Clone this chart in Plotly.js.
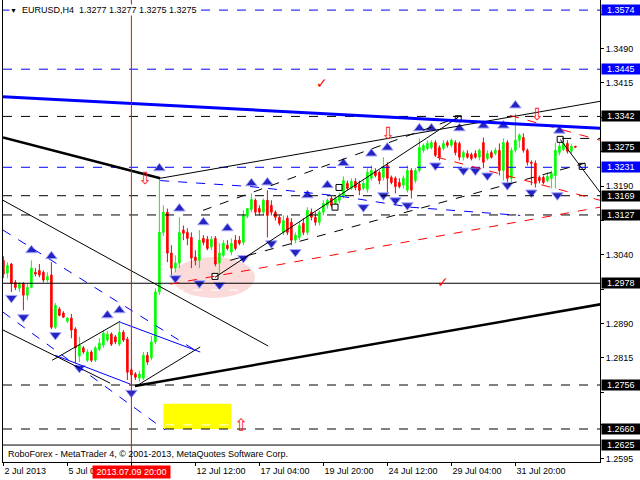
<!DOCTYPE html>
<html><head><meta charset="utf-8">
<script src="https://cdn.plot.ly/plotly-3.0.1.min.js"></script>
<style>html,body{margin:0;padding:0;background:#fff}#chart{width:640px;height:480px}</style>
</head><body><div id="chart"></div>
<script>
// ---- EURUSD H4 bars (bar index = position on the time axis) ----
const openPrices = [1.3028,1.3000,1.3020,1.2980,1.2967,1.2978,1.2952,1.2969,1.3002,1.3006,1.3002,1.2985,1.2996,1.2882,1.2922,1.2913,1.2895,1.2902,1.2878,1.2819,1.2837,1.2810,1.2828,1.2810,1.2834,1.2843,1.2854,1.2867,1.2861,1.2845,1.2871,1.2856,1.2789,1.2780,1.2771,1.2771,1.2821,1.2815,1.2850,1.2959,1.3089,1.3133,1.3044,1.3011,1.3022,1.3094,1.3089,1.3078,1.3035,1.3028,1.3076,1.3074,1.3057,1.3076,1.3022,1.3039,1.3061,1.3046,1.3072,1.3072,1.3067,1.3124,1.3139,1.3159,1.3141,1.3133,1.3159,1.3148,1.3133,1.3122,1.3089,1.3120,1.3111,1.3072,1.3078,1.3109,1.3089,1.3133,1.3122,1.3111,1.3133,1.3148,1.3163,1.3152,1.3159,1.3168,1.3196,1.3185,1.3200,1.3194,1.3185,1.3183,1.3207,1.3222,1.3220,1.3209,1.3235,1.3209,1.3207,1.3198,1.3192,1.3181,1.3224,1.3202,1.3224,1.3268,1.3272,1.3274,1.3285,1.3274,1.3272,1.3285,1.3279,1.3285,1.3283,1.3253,1.3261,1.3259,1.3261,1.3253,1.3285,1.3250,1.3263,1.3261,1.3268,1.3224,1.3285,1.3207,1.3268,1.3290,1.3296,1.3268,1.3242,1.3240,1.3209,1.3209,1.3202,1.3207,1.3213,1.3263,1.3270,1.3283,1.3266,1.3277];
const highPrices = [1.3037,1.3024,1.3022,1.2985,1.2980,1.2980,1.2978,1.3028,1.3011,1.3020,1.3006,1.3002,1.3024,1.2935,1.2926,1.2917,1.2904,1.2911,1.2882,1.2861,1.2841,1.2834,1.2832,1.2841,1.2858,1.2876,1.2874,1.2871,1.2865,1.2893,1.2876,1.2861,1.2793,1.2784,1.2787,1.2828,1.2828,1.2863,1.2967,1.3207,1.3148,1.3141,1.3061,1.3039,1.3122,1.3104,1.3098,1.3089,1.3050,1.3094,1.3083,1.3081,1.3081,1.3081,1.3065,1.3072,1.3072,1.3076,1.3083,1.3081,1.3137,1.3141,1.3174,1.3163,1.3148,1.3163,1.3181,1.3159,1.3137,1.3126,1.3126,1.3126,1.3120,1.3089,1.3111,1.3120,1.3144,1.3141,1.3133,1.3137,1.3159,1.3163,1.3168,1.3170,1.3176,1.3211,1.3202,1.3207,1.3207,1.3202,1.3202,1.3229,1.3235,1.3229,1.3224,1.3253,1.3242,1.3213,1.3211,1.3207,1.3213,1.3235,1.3229,1.3229,1.3294,1.3283,1.3290,1.3290,1.3290,1.3279,1.3290,1.3290,1.3294,1.3290,1.3287,1.3268,1.3268,1.3263,1.3268,1.3272,1.3296,1.3268,1.3268,1.3274,1.3283,1.3294,1.3290,1.3274,1.3348,1.3305,1.3305,1.3272,1.3246,1.3246,1.3213,1.3213,1.3220,1.3224,1.3285,1.3290,1.3294,1.3290,1.3281,1.3277];
const lowPrices = [1.2989,1.2989,1.2959,1.2963,1.2959,1.2919,1.2941,1.2967,1.2993,1.2991,1.2980,1.2980,1.2878,1.2878,1.2906,1.2902,1.2891,1.2858,1.2804,1.2806,1.2824,1.2806,1.2806,1.2806,1.2830,1.2837,1.2850,1.2841,1.2845,1.2841,1.2850,1.2767,1.2756,1.2767,1.2763,1.2767,1.2800,1.2810,1.2845,1.2952,1.3081,1.3024,1.2996,1.3002,1.3011,1.3072,1.3061,1.3011,1.3017,1.3011,1.3061,1.3050,1.3050,1.3015,1.2996,1.3035,1.3050,1.3039,1.3050,1.3061,1.3061,1.3120,1.3133,1.3126,1.3126,1.3126,1.3078,1.3126,1.3115,1.3104,1.3083,1.3083,1.3061,1.3065,1.3072,1.3083,1.3083,1.3115,1.3104,1.3104,1.3126,1.3141,1.3144,1.3148,1.3152,1.3163,1.3181,1.3181,1.3181,1.3170,1.3181,1.3176,1.3202,1.3209,1.3194,1.3202,1.3174,1.3194,1.3174,1.3185,1.3185,1.3176,1.3163,1.3196,1.3220,1.3263,1.3268,1.3270,1.3253,1.3246,1.3268,1.3274,1.3274,1.3257,1.3246,1.3246,1.3250,1.3246,1.3250,1.3246,1.3229,1.3246,1.3250,1.3257,1.3213,1.3202,1.3198,1.3198,1.3263,1.3274,1.3263,1.3235,1.3192,1.3187,1.3196,1.3194,1.3198,1.3185,1.3185,1.3257,1.3266,1.3261,1.3261,1.3275];
const closePrices = [1.2998,1.3017,1.2978,1.2969,1.2978,1.2952,1.2969,1.3011,1.2998,1.2996,1.2985,1.2993,1.2882,1.2930,1.2908,1.2904,1.2902,1.2876,1.2837,1.2843,1.2828,1.2828,1.2810,1.2837,1.2847,1.2869,1.2867,1.2845,1.2850,1.2871,1.2854,1.2784,1.2778,1.2773,1.2780,1.2821,1.2806,1.2850,1.2959,1.3089,1.3133,1.3044,1.3011,1.3022,1.3089,1.3087,1.3076,1.3033,1.3028,1.3072,1.3067,1.3054,1.3074,1.3020,1.3044,1.3065,1.3054,1.3065,1.3054,1.3065,1.3126,1.3141,1.3161,1.3133,1.3133,1.3159,1.3126,1.3133,1.3122,1.3109,1.3115,1.3089,1.3072,1.3083,1.3104,1.3089,1.3137,1.3122,1.3111,1.3133,1.3152,1.3159,1.3148,1.3163,1.3170,1.3202,1.3185,1.3200,1.3187,1.3181,1.3196,1.3220,1.3224,1.3213,1.3202,1.3231,1.3207,1.3198,1.3189,1.3189,1.3207,1.3224,1.3181,1.3224,1.3274,1.3279,1.3283,1.3285,1.3257,1.3253,1.3283,1.3279,1.3290,1.3263,1.3253,1.3263,1.3253,1.3250,1.3253,1.3268,1.3242,1.3261,1.3253,1.3268,1.3224,1.3285,1.3207,1.3268,1.3290,1.3301,1.3268,1.3242,1.3240,1.3196,1.3202,1.3198,1.3211,1.3218,1.3268,1.3277,1.3283,1.3266,1.3277,1.3275];

// time axis labels (every 16 bars); labels hidden under the cursor label are left empty
const timeTickBars = [0,16,32,48,64,80,96,112,128];
const timeTickText = ['2 Jul 2013','5 Jul 0','','12 Jul 12:00','17 Jul 04:00','19 Jul 20:00','24 Jul 12:00','29 Jul 04:00','31 Jul 20:00'];
const cursorBar = 32;
const cursorText = '2013.07.09 20:00';

// price scale ticks (labels covered by level boxes left empty)
const priceTicks = [1.3565,1.3490,1.3415,1.3340,1.3265,1.3190,1.3115,1.3040,1.2965,1.2890,1.2815,1.2740,1.2670,1.2595];
const priceTickText = ['','1.3490','1.3415','','','1.3190','','1.3040','','1.2890','1.2815','','','1.2595'];

// horizontal levels
const blueDashLevels = [1.3574,1.3445,1.3231];
const blackDashLevels = [1.3342,1.3169,1.3127,1.2756,1.2660];
const blackSolidLevels = [1.2978,1.2625];
const labelBlue = [1.3574,1.3445,1.3231];
const labelBlack = [1.3342,1.3275,1.3169,1.3127,1.2978,1.2756,1.2660,1.2625];

// fractal arrows (bar, price)
const fracUpBar   = [7,12,26,29,39,44,50,56,62,66,76,81,85,92,96,104,107,114,120,125,128,139];
const fracUpPrice = [1.3050,1.3037,1.2908,1.2919,1.3229,1.3141,1.3111,1.3098,1.3196,1.3198,1.3170,1.3192,1.3240,1.3261,1.3274,1.3316,1.3316,1.3316,1.3322,1.3322,1.3366,1.3311];
const fracDnBar   = [2,5,13,19,32,43,49,54,60,67,73,90,95,98,101,108,115,118,121,126,132,138.5];
const fracDnPrice = [1.2946,1.2904,1.2865,1.2793,1.2739,1.2989,1.2978,1.2974,1.3033,1.3065,1.3046,1.3144,1.3170,1.3159,1.3148,1.3235,1.3224,1.3224,1.3213,1.3192,1.3176,1.3170];

// anchor squares of drawn objects
const boxBar = [52.9,82.9,83.9,113.7,139.2,144.7];
const boxPrice = [1.2993,1.3144,1.3187,1.3337,1.3292,1.3233];

// drawn trend lines: [bar0, price0, bar1, price1]
const blueThickLine = [-0.1,1.3385,149.2,1.3316];
const blackThickLines = [[-0.1,1.3296,39.2,1.3207],[32.9,1.2754,149.2,1.2932]];
const blackThinLines = [[39.2,1.3207,149.2,1.3375],[-0.1,1.3159,66.2,1.2841],[-0.1,1.2876,26.7,1.2760],[12.2,1.2810,29.2,1.2895],[32.9,1.2752,49.2,1.2839],[52.9,1.2991,113.7,1.3340],[139.2,1.3292,149.2,1.3176]];
const blueSolidLines = [[29.2,1.2893,49.2,1.2828],[12.9,1.2821,31.7,1.2758]];
const blueDashLines = [[-0.1,1.3094,47.9,1.2832],[-0.1,1.2915,40.4,1.2658]];
const blueDashPathBar = [39.2,61.7,84.2,101.7,129.2];
const blueDashPathPrice = [1.3202,1.3189,1.3168,1.3144,1.3126];
const blackDashLines = [[49.9,1.3137,113.7,1.3340],[56.7,1.3028,145.4,1.3240],[139.7,1.3294,149.2,1.3294]];
const redDashLines = [[41.7,1.2976,149.2,1.3144],[108.4,1.3253,149.2,1.3159],[126.7,1.3344,149.2,1.3290]];
const whiteDashLines = [[42.9,1.2963,60.4,1.2963],[40.5,1.2669,57,1.2669]];
const pinkEllipse = [42.2,1.2946,62.9,1.3035];
const yellowZone = [40,1.2660,57,1.2715];
const redDownArrows = [[35.4,1.3207],[96.2,1.3305],[133.4,1.3348]];
const redUpArrows = [[59.5,1.2669]];
const redChecks = [[79.7,1.3416],[110,1.2980]];

const FONT = 'Liberation Sans, Arial, sans-serif';
const shapes = [];
const seg = (l, color, width, dash) => shapes.push({type:'line', xref:'x', yref:'y', x0:l[0], y0:l[1], x1:l[2], y1:l[3], line:{color, width, dash}, layer:'above'});
const level = (p, color, dash) => shapes.push({type:'line', xref:'paper', yref:'y', x0:0, x1:1, y0:p, y1:p, line:{color, width:1, dash}, layer:'above'});

shapes.push({type:'circle', xref:'x', yref:'y', x0:pinkEllipse[0], y0:pinkEllipse[1], x1:pinkEllipse[2], y1:pinkEllipse[3], fillcolor:'#fbdada', line:{width:0}, layer:'below'});
shapes.push({type:'rect', xref:'x', yref:'y', x0:yellowZone[0], y0:yellowZone[1], x1:yellowZone[2], y1:yellowZone[3], fillcolor:'#ffff00', line:{width:0}, layer:'below'});
blueDashLevels.forEach(p => level(p, '#0000ff', 'dash'));
blackDashLevels.forEach(p => level(p, '#000000', 'dash'));
blackSolidLevels.forEach(p => level(p, '#000000', 'solid'));
blackThinLines.forEach(l => seg(l, '#000', 1, 'solid'));
blackThickLines.forEach(l => seg(l, '#000', 2.5, 'solid'));
blueSolidLines.forEach(l => seg(l, '#0000ff', 1, 'solid'));
blueDashLines.forEach(l => seg(l, '#0000ff', 1, 'dash'));
for (let i = 0; i < blueDashPathBar.length - 1; i++) seg([blueDashPathBar[i], blueDashPathPrice[i], blueDashPathBar[i+1], blueDashPathPrice[i+1]], '#0000ff', 1, 'dash');
blackDashLines.forEach(l => seg(l, '#000', 1, 'dash'));
redDashLines.forEach(l => seg(l, '#ff0000', 1, 'dash'));
whiteDashLines.forEach(l => seg(l, '#ffffff', 1, 'dash'));
seg(blueThickLine, '#0000ff', 3, 'solid');
shapes.push({type:'line', xref:'x', yref:'paper', x0:cursorBar, x1:cursorBar, y0:0, y1:1, line:{color:'#ff0000', width:1}, layer:'above'});

const annotations = [];
const boxLabel = (p, bg) => annotations.push({xref:'paper', yref:'y', x:1, y:p, xanchor:'left', yanchor:'middle', xshift:1, text:'\u00a0\u00a0' + p.toFixed(4) + '\u00a0\u00a0', showarrow:false, bgcolor:bg, borderpad:0, font:{family:FONT, size:9, color:'#fff'}});
labelBlue.forEach(p => boxLabel(p, '#0000ff'));
labelBlack.forEach(p => boxLabel(p, '#000000'));
annotations.push({xref:'x', yref:'paper', x:cursorBar, y:0, xanchor:'center', yanchor:'top', yshift:-3, text:'\u00a0' + cursorText + '\u00a0', showarrow:false, bgcolor:'#ff0000', borderpad:1, font:{family:FONT, size:9, color:'#fff'}});
annotations.push({xref:'paper', yref:'paper', x:0, y:1, xanchor:'left', yanchor:'top', xshift:6, yshift:-4, text:'<span style="font-size:7px">\u25BC</span>\u00a0\u00a0EURUSD,H4\u00a0\u00a0' + [openPrices[143], highPrices[143], lowPrices[143], closePrices[143]].map(v => v.toFixed(4)).join(' '), showarrow:false, bgcolor:'#fff', borderpad:0, font:{family:FONT, size:9, color:'#000'}});
annotations.push({xref:'paper', yref:'paper', x:0, y:0, xanchor:'left', yanchor:'middle', xshift:3, yshift:8, text:'RoboForex - MetaTrader 4, \u00a9 2001-2013, MetaQuotes Software Corp.', showarrow:false, font:{family:FONT, size:9, color:'#000'}});
redDownArrows.forEach(a => annotations.push({xref:'x', yref:'y', x:a[0], y:a[1], text:'\u21E9', showarrow:false, font:{family:'DejaVu Sans', size:17, color:'#ff2020'}}));
redUpArrows.forEach(a => annotations.push({xref:'x', yref:'y', x:a[0], y:a[1], text:'\u21E7', showarrow:false, font:{family:'DejaVu Sans', size:17, color:'#ff2020'}}));
redChecks.forEach(a => annotations.push({xref:'x', yref:'y', x:a[0], y:a[1], text:'\u2713', showarrow:false, font:{family:'DejaVu Sans', size:14, color:'#ff0000'}}));

const traces = [
  {type:'candlestick', open:openPrices, high:highPrices, low:lowPrices, close:closePrices,
   increasing:{line:{color:'#00ff00', width:1}, fillcolor:'#00ff00'},
   decreasing:{line:{color:'#ff0000', width:1}, fillcolor:'#ff0000'},
   whiskerwidth:0, hoverinfo:'skip', showlegend:false},
  {type:'scatter', mode:'markers', x:fracUpBar, y:fracUpPrice, hoverinfo:'skip', showlegend:false,
   marker:{symbol:'triangle-up', size:10, color:'#2424c0', line:{color:'#a8a8ff', width:1}}},
  {type:'scatter', mode:'markers', x:fracDnBar, y:fracDnPrice, hoverinfo:'skip', showlegend:false,
   marker:{symbol:'triangle-down', size:10, color:'#2424c0', line:{color:'#a8a8ff', width:1}}},
  {type:'scatter', mode:'markers', x:boxBar, y:boxPrice, hoverinfo:'skip', showlegend:false,
   marker:{symbol:'square', size:6, color:'#ffffff', line:{color:'#000', width:1}}}
];

const layout = {
  width:640, height:480, margin:{l:3, r:40, t:0, b:18},
  paper_bgcolor:'#fff', plot_bgcolor:'#fff', showlegend:false, hovermode:false,
  boxgap:0.45,
  xaxis:{range:[-0.1,149.15], showgrid:false, zeroline:false, showline:true, linecolor:'#000', linewidth:1,
         ticks:'outside', ticklen:3, tickcolor:'#000', tickvals:timeTickBars, ticktext:timeTickText,
         ticklabelposition:'outside right', tickfont:{family:FONT, size:9, color:'#000'},
         rangeslider:{visible:false}, fixedrange:true},
  yaxis:{side:'right', range:[1.2588,1.3596], showgrid:false, zeroline:false, showline:true, mirror:true,
         linecolor:'#000', linewidth:1, ticks:'outside', ticklen:3, tickcolor:'#000',
         tickvals:priceTicks, ticktext:priceTickText,
         tickfont:{family:FONT, size:9, color:'#000'}, fixedrange:true},
  shapes, annotations
};
Plotly.newPlot('chart', traces, layout, {staticPlot:true, displayModeBar:false});
</script></body></html>
